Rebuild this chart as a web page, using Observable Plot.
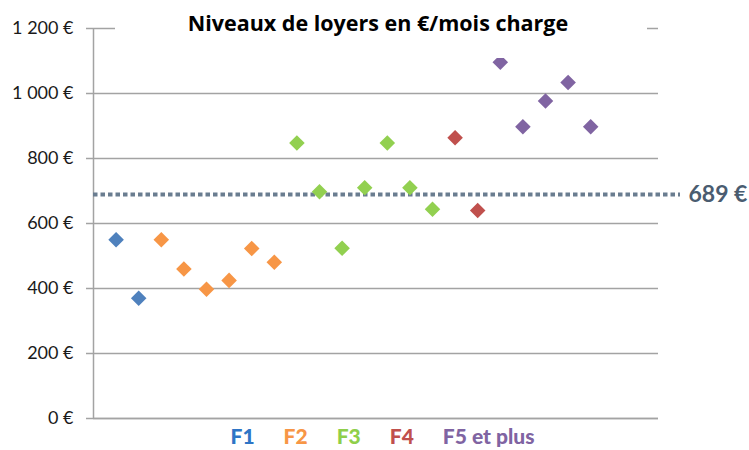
<!DOCTYPE html>
<html>
<head>
<meta charset="utf-8">
<script src="https://cdn.jsdelivr.net/npm/d3@7"></script>
<script src="https://cdn.jsdelivr.net/npm/@observablehq/plot@0.6"></script>
<style>
  html, body { margin: 0; padding: 0; background: #fff; }
  #wrap { position: relative; width: 749px; height: 450px; overflow: hidden; font-family: Lato, "Open Sans", sans-serif; }
  #title { position: absolute; left: 115px; top: 0; width: 532px; height: 58px; background: #fff;
           text-align: center; font-family: "Open Sans", sans-serif; font-weight: bold; font-size: 21.5px; line-height: 22px;
           padding-top: 12px; padding-right: 6px; box-sizing: border-box; color: #000; white-space: nowrap; }
  #legend { position: absolute; left: 0; width: 749px; top: 423px; display: flex; justify-content: center;
            gap: 29px; font-weight: 900; font-size: 21px; padding-left: 16px; box-sizing: border-box; }
</style>
</head>
<body>
<div id="wrap">
  <div id="chart"></div>
  <div id="title">Niveaux de loyers en €/mois charge</div>
  <div id="legend"></div>
</div>
<script>
const categories = ["F1", "F2", "F3", "F4", "F5 et plus"];
const pointColors = ["#4f81bd", "#f79646", "#92d050", "#c0504d", "#8064a2"];
const legendColors = ["#2e75c6", "#f79646", "#8fcf4a", "#c0504d", "#8064a2"];
const rentF1 = [550, 370];
const rentF2 = [550, 460, 398, 425, 523, 481];
const rentF3 = [848, 698, 524, 710, 848, 710, 644];
const rentF4 = [864, 640];
const rentF5 = [1096, 898, 977, 1034, 898];
const average = 689;
const yTicks = [0, 200, 400, 600, 800, 1000, 1200];

const series = [rentF1, rentF2, rentF3, rentF4, rentF5];
let idx = 0;
const points = series.flatMap((vals, s) => vals.map(v => ({ i: ++idx, cat: categories[s], rent: v })));

const fmt = d => (d >= 1000 ? `${Math.floor(d / 1000)} ${String(d % 1000).padStart(3, "0")}` : `${d}`) + " €";

const chart = Plot.plot({
  width: 749,
  height: 450,
  marginLeft: 93,
  marginRight: 91,
  marginTop: 28,
  marginBottom: 32,
  style: { fontFamily: "Lato, 'Open Sans', sans-serif", background: "#fff", overflow: "visible" },
  x: { domain: [0, 25], axis: null },
  y: { domain: [0, 1200] },
  color: { domain: categories, range: pointColors },
  marks: [
    Plot.gridY(yTicks, { stroke: "#a3a3a3", strokeOpacity: 1, strokeWidth: 1.5 }),
    Plot.axisY(yTicks, { tickSize: 7, tickPadding: 13, tickFormat: fmt, fontSize: 18, stroke: "#a3a3a3", strokeWidth: 1.5, fill: "#1a1a1a", label: null }),
    Plot.ruleX([0], { stroke: "#a3a3a3", strokeWidth: 1.5 }),
    Plot.ruleY([0], { stroke: "#a3a3a3", strokeWidth: 1.5 }),
    Plot.ruleY([average], { stroke: "#6a7d90", strokeWidth: 4, strokeDasharray: "4.5,3", insetRight: -22 }),
    Plot.text([average], { y: d => d, frameAnchor: "right", text: d => `${d} €`, dx: 30, textAnchor: "start",
                            fontSize: 23, fontWeight: "bold", fill: "#4a5c70" }),
    Plot.dot(points, { x: "i", y: "rent", symbol: "diamond2", r: 7, fill: "cat", stroke: "none" })
  ]
});
document.getElementById("chart").appendChild(chart);

const legend = document.getElementById("legend");
categories.forEach((c, k) => {
  const s = document.createElement("span");
  s.textContent = c;
  s.style.color = legendColors[k];
  legend.appendChild(s);
});
</script>
</body>
</html>
